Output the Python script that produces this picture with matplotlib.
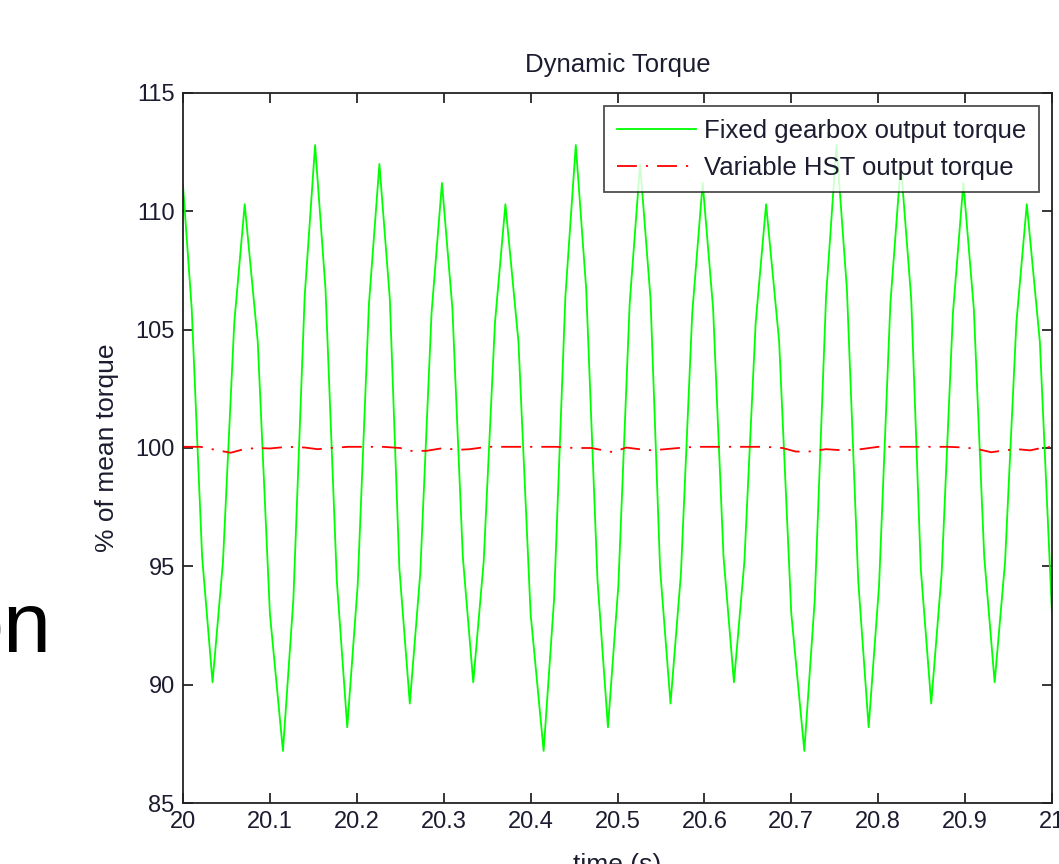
import matplotlib
matplotlib.use("Agg")
from matplotlib import pyplot as plt

# green trace: fixed gearbox output torque (% of mean)
t_fixed = [20.000, 20.010, 20.022, 20.034, 20.046, 20.059, 20.071, 20.086, 20.100, 20.115,
           20.127, 20.140, 20.152, 20.164, 20.177, 20.189, 20.201, 20.214, 20.226, 20.238,
           20.249, 20.261, 20.273, 20.286,
           20.298, 20.310, 20.322, 20.334, 20.346, 20.359, 20.371, 20.386, 20.400, 20.415,
           20.427, 20.440, 20.452, 20.464, 20.477, 20.489, 20.501, 20.514, 20.526, 20.538,
           20.549, 20.561, 20.573, 20.586,
           20.598, 20.610, 20.622, 20.634, 20.646, 20.659, 20.671, 20.686, 20.700, 20.715,
           20.727, 20.740, 20.752, 20.764, 20.777, 20.789, 20.801, 20.814, 20.826, 20.838,
           20.849, 20.861, 20.873, 20.886,
           20.898, 20.910, 20.922, 20.934, 20.946, 20.959, 20.971, 20.986, 21.000]
y_fixed = [111.1, 105.9, 95.4, 90.1, 95.2, 105.3, 110.3, 104.5, 93.0, 87.2,
           93.6, 106.4, 112.8, 106.7, 94.4, 88.2, 94.2, 106.1, 112.0, 106.3,
           94.9, 89.2, 94.7, 105.7,
           111.2, 105.9, 95.4, 90.1, 95.2, 105.3, 110.3, 104.5, 93.0, 87.2,
           93.6, 106.4, 112.8, 106.7, 94.4, 88.2, 94.2, 106.1, 112.0, 106.3,
           94.9, 89.2, 94.7, 105.7,
           111.2, 105.9, 95.4, 90.1, 95.2, 105.3, 110.3, 104.5, 93.0, 87.2,
           93.6, 106.4, 112.8, 106.7, 94.4, 88.2, 94.2, 106.1, 112.0, 106.3,
           94.9, 89.2, 94.7, 105.7,
           111.2, 105.9, 95.4, 90.1, 95.2, 105.3, 110.3, 104.5, 93.0]

# red trace: variable HST output torque
t_hst = [20.00, 20.02, 20.04, 20.055, 20.07, 20.085, 20.10, 20.12, 20.14, 20.155,
         20.17, 20.19, 20.21, 20.23, 20.25, 20.26, 20.28, 20.30, 20.315, 20.33,
         20.35, 20.37, 20.39, 20.41, 20.43, 20.45, 20.47, 20.495, 20.51, 20.525,
         20.54, 20.555, 20.57, 20.59, 20.61, 20.63, 20.65, 20.67, 20.69, 20.705,
         20.72, 20.74, 20.76, 20.78, 20.80, 20.82, 20.84, 20.86, 20.88, 20.90,
         20.915, 20.93, 20.945, 20.96, 20.975, 20.99, 21.00]
y_hst = [100.05, 100.05, 99.90, 99.80, 99.95, 100.00, 99.98, 100.05, 100.02, 99.95,
         100.00, 100.05, 100.05, 100.05, 100.00, 99.88, 99.88, 100.00, 99.92, 99.95,
         100.05, 100.05, 100.05, 100.05, 100.05, 100.00, 100.00, 99.82, 100.02, 99.95,
         99.90, 99.95, 100.00, 100.05, 100.05, 100.05, 100.05, 100.05, 100.00, 99.85,
         99.85, 99.95, 99.90, 99.95, 100.05, 100.05, 100.05, 100.05, 100.05, 100.02,
         99.95, 99.82, 99.90, 99.95, 99.90, 100.02, 100.05]

x_ticks = [20, 20.1, 20.2, 20.3, 20.4, 20.5, 20.6, 20.7, 20.8, 20.9, 21]
x_tick_labels = ["20", "20.1", "20.2", "20.3", "20.4", "20.5", "20.6", "20.7", "20.8", "20.9", "21"]
y_ticks = [85, 90, 95, 100, 105, 110, 115]

plt.rcParams['font.family'] = ['Liberation Sans', 'DejaVu Sans']
txt_col = '#1c1c30'

fig = plt.figure(figsize=(10.59, 8.64), dpi=100)
ax = fig.add_axes([183 / 1059, 61 / 864, 869 / 1059, 710 / 864])

ax.plot(t_fixed, y_fixed, color=(0, 1, 0), lw=1.3, label="Fixed gearbox output torque")
ax.plot(t_hst, y_hst, color=(1, 0, 0), lw=1.3, linestyle=(0, (11, 5, 1.2, 5)),
        label="Variable HST output torque")

ax.set_xlim(20, 21)
ax.set_ylim(85, 115)
ax.set_xticks(x_ticks)
ax.set_xticklabels(x_tick_labels)
ax.set_yticks(y_ticks)
ax.tick_params(direction='in', length=7, width=1.1, top=True, right=True,
               labelsize=17, pad=6, labelcolor=txt_col)
for s in ax.spines.values():
    s.set_linewidth(1.3)
    s.set_color('#222222')

ax.set_title("Dynamic Torque", fontsize=18.5, pad=15, color=txt_col)
ax.set_xlabel("time (s)", fontsize=19, labelpad=14, color=txt_col)
ax.set_ylabel("% of mean torque", fontsize=19, labelpad=12, color=txt_col)

leg = ax.legend(loc='upper right', fontsize=18.5, frameon=True, fancybox=False,
                handlelength=3.1, borderaxespad=0.5, borderpad=0.5, labelspacing=0.5,
                handletextpad=0.3)
leg.get_frame().set_edgecolor('#222222')
leg.get_frame().set_linewidth(1.3)
for t in leg.get_texts():
    t.set_color(txt_col)

# fragment of slide text at the left edge
fig.text(51 / 1059, 212 / 864, "on", fontsize=62, ha='right', va='baseline',
         family=['Liberation Sans', 'DejaVu Sans'])

fig.savefig("out.png", dpi=100)
